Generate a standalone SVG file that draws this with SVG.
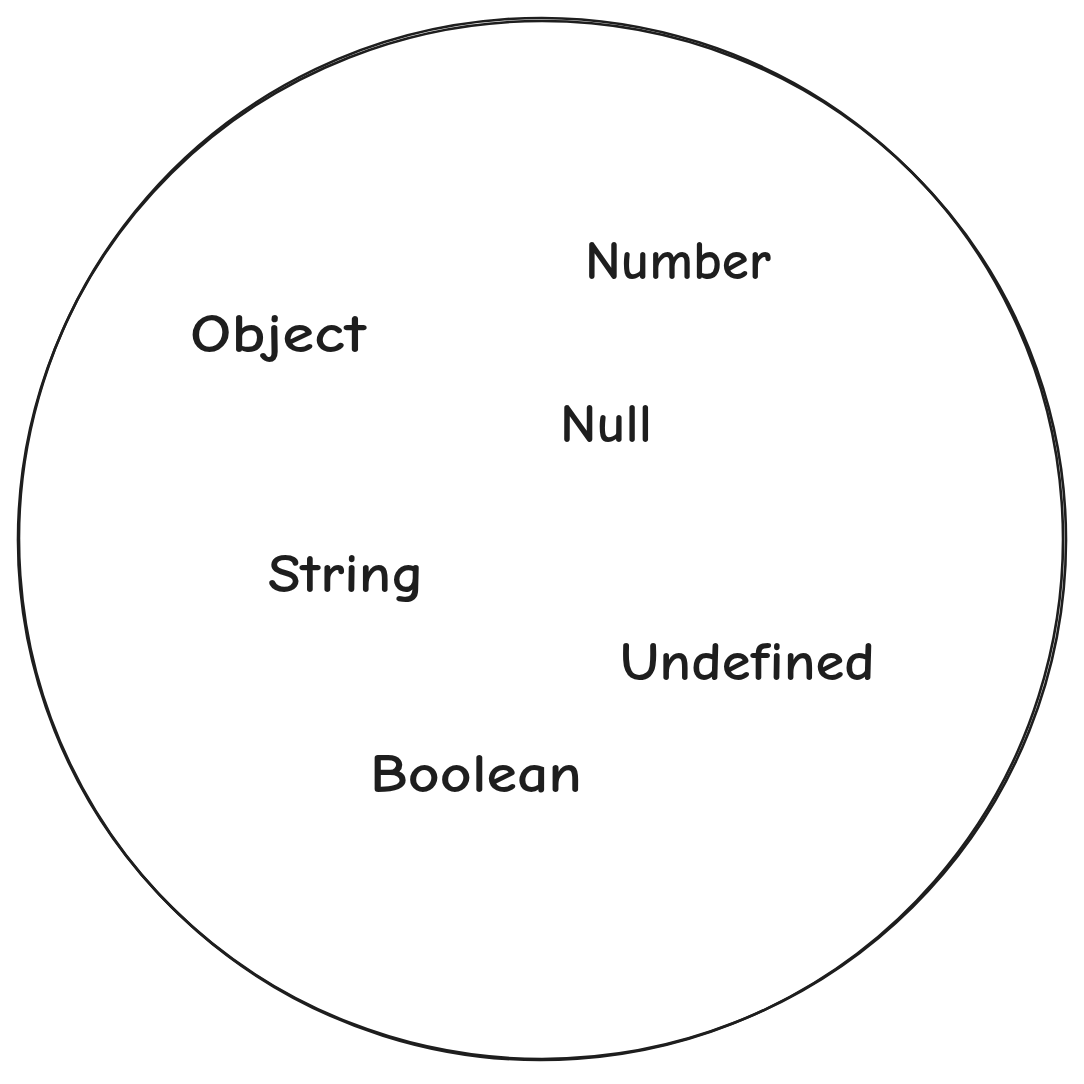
<svg xmlns="http://www.w3.org/2000/svg" width="1084" height="1084" viewBox="0 0 1084 1084">
<style>
.outline{fill:none;stroke:#1e1e1e;stroke-width:2.6;stroke-linecap:round}
.lbl{font-family:"Comic Neue","Liberation Sans",sans-serif;font-size:54px;fill:#1e1e1e;font-weight:bold}
</style>
<rect width="1084" height="1084" fill="#ffffff"/>
<g id="circle">
<ellipse class="outline" cx="542" cy="540" rx="524" ry="519"/>
<ellipse class="outline" cx="541" cy="539" rx="522" ry="521" transform="rotate(-4 541 539)"/>
</g>
<g id="nodes">
<g id="n-number"><text class="lbl" x="585" y="279" textLength="186" lengthAdjust="spacingAndGlyphs">Number</text></g>
<g id="n-object"><text class="lbl" x="190" y="352" textLength="176" lengthAdjust="spacingAndGlyphs">Object</text></g>
<g id="n-null"><text class="lbl" x="560" y="442" textLength="92" lengthAdjust="spacingAndGlyphs">Null</text></g>
<g id="n-string"><text class="lbl" x="268" y="592" textLength="156" lengthAdjust="spacingAndGlyphs">String</text></g>
<g id="n-undefined"><text class="lbl" x="620" y="680" textLength="255" lengthAdjust="spacingAndGlyphs">Undefined</text></g>
<g id="n-boolean"><text class="lbl" x="370" y="792" textLength="212" lengthAdjust="spacingAndGlyphs">Boolean</text></g>
</g>
<g id="connectors"></g>
</svg>
